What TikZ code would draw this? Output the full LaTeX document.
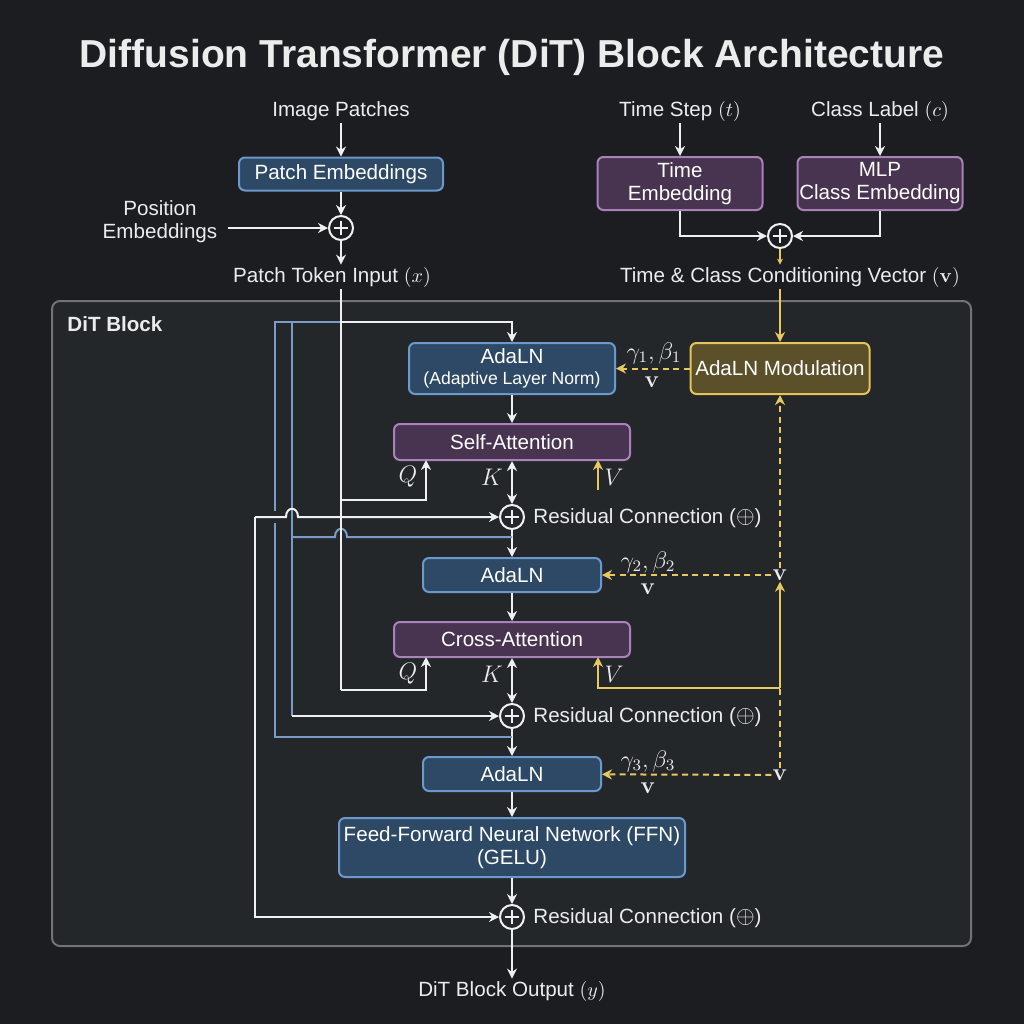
\documentclass[tikz,border=0pt]{standalone}
\usepackage[no-math]{fontspec}
\setmainfont{Liberation Sans}
\usetikzlibrary{arrows.meta}
\definecolor{bg}{RGB}{27,29,32}
\definecolor{framef}{RGB}{36,39,42}
\definecolor{frameb}{RGB}{112,115,119}
\definecolor{txt}{RGB}{236,236,236}
\definecolor{wcol}{RGB}{240,240,240}
\definecolor{bcol}{RGB}{122,156,198}
\definecolor{ycol}{RGB}{232,200,96}
\definecolor{bfill}{RGB}{45,73,102}
\definecolor{bdraw}{RGB}{108,152,204}
\definecolor{pfill}{RGB}{72,52,80}
\definecolor{pdraw}{RGB}{168,130,184}
\definecolor{yfill}{RGB}{92,80,42}
\definecolor{ydraw}{RGB}{228,196,92}
\newcommand{\myoplus}{{\fontsize{13}{13}\selectfont$\oplus$}}
\begin{document}
\begin{tikzpicture}[x=0.5pt,y=-0.5pt,
  tx/.style={text=txt, font=\fontsize{10.3}{11.5}\selectfont, inner sep=1pt, align=center},
  boxbase/.style={rounded corners=3pt, line width=1pt, text=white, align=center, inner sep=0pt, font=\fontsize{10.3}{11.5}\selectfont},
  bbox/.style={boxbase, draw=bdraw, fill=bfill},
  pbox/.style={boxbase, draw=pdraw, fill=pfill},
  ybox/.style={boxbase, draw=ydraw, fill=yfill},
  wl/.style={draw=wcol, line width=1pt},
  bl/.style={draw=bcol, line width=1pt},
  yl/.style={draw=ycol, line width=1pt},
  yd/.style={draw=ycol, line width=1pt, dash pattern=on 3pt off 2.2pt},
  arr/.style={-{Stealth[length=5pt,width=5pt]}},
  dbl/.style={{Stealth[length=5pt,width=5pt]}-{Stealth[length=5pt,width=5pt]}},
  plus/.style={circle, draw=wcol, line width=1pt, minimum size=12pt, inner sep=0pt,
    path picture={\draw[wcol, line width=0.9pt] ([xshift=-3.6pt]path picture bounding box.center) -- ([xshift=3.6pt]path picture bounding box.center);
                  \draw[wcol, line width=0.9pt] ([yshift=-3.6pt]path picture bounding box.center) -- ([yshift=3.6pt]path picture bounding box.center);}},
  lab/.style={text=txt, font=\fontsize{10.3}{11.5}\selectfont, inner sep=0.5pt},
  mlab/.style={text=txt, font=\fontsize{11.5}{12}\selectfont, inner sep=0.5pt}
]
\fill[bg] (0,0) rectangle (1024,1024);
\useasboundingbox (0,0) rectangle (1024,1024);

% title
\node[text=txt, font=\fontsize{19.5}{23}\selectfont\bfseries] (title) at (512,57) {Diffusion Transformer (DiT) Block Architecture};

% frame
\draw[draw=frameb, fill=framef, line width=1pt, rounded corners=4pt] (52,301) rectangle (971,946);
\node[text=txt, font=\fontsize{10.3}{12}\selectfont\bfseries, anchor=west, inner sep=0pt] (dl) at (67,324) {DiT Block};

% top left input
\node[tx] (ip) at (341,111) {Image Patches};
\node[bbox, minimum width=102pt, minimum height=16.5pt] (pe) at (341,174) {Patch Embeddings};
\node[plus] (p0) at (341,228) {};
\node[tx] (pos) at (160,222) {Position\\Embeddings};
\node[tx] (pti) at (332,277) {Patch Token Input $(x)$};
\coordinate (posend) at (228,228);
\draw[wl,arr] (ip) -- (pe);
\draw[wl,arr] (pe) -- (p0);
\draw[wl,arr] (posend) -- (p0);
\draw[wl,arr] (p0) -- (p0 |- pti.north);

% conditioning
\node[tx] (ts) at (680,111) {Time Step $(t)$};
\node[tx] (cl) at (880,111) {Class Label $(c)$};
\node[pbox, minimum width=82.5pt, minimum height=26.5pt] (te) at (680,183.5) {Time\\Embedding};
\node[pbox, minimum width=82.5pt, minimum height=26.5pt] (ce) at (880,183.5) {MLP\\Class Embedding};
\node[plus] (pc) at (780,236) {};
\node[tx] (cv) at (790,277) {Time \& Class Conditioning Vector $(\mathbf{v})$};
\draw[wl,arr] (ts) -- (te);
\draw[wl,arr] (cl) -- (ce);
\draw[wl,arr] (te) |- (pc);
\draw[wl,arr] (ce) |- (pc);
\draw[yl,line width=0.7pt,-{Stealth[length=3pt,width=3pt]}] (pc) -- (pc |- cv.north);

% main column
\node[bbox, minimum width=103pt, minimum height=25.5pt] (ada1) at (512,368.5) {AdaLN\\[-1pt]{\fontsize{8.8}{10}\selectfont (Adaptive Layer Norm)}};
\node[pbox, minimum width=118pt, minimum height=18pt] (sa) at (512,442) {Self-Attention};
\node[plus] (r1) at (512,517) {};
\node[bbox, minimum width=89pt, minimum height=17pt] (ada2) at (512,575) {AdaLN};
\node[pbox, minimum width=118pt, minimum height=17.5pt] (ca) at (512,639.5) {Cross-Attention};
\node[plus] (r2) at (512,716) {};
\node[bbox, minimum width=89pt, minimum height=17pt] (ada3) at (512,774) {AdaLN};
\node[bbox, minimum width=173pt, minimum height=29.5pt] (ffn) at (512,847.5) {Feed-Forward Neural Network (FFN)\\(GELU)};
\node[plus] (r3) at (512,917) {};
\node[tx] (out) at (512,991) {DiT Block Output $(y)$};

\node[lab, anchor=west] (rl1) at (532,518) {Residual Connection (\myoplus)};
\node[lab, anchor=west] (rl2) at (532,717) {Residual Connection (\myoplus)};
\node[lab, anchor=west] (rl3) at (532,918) {Residual Connection (\myoplus)};

\draw[wl,arr] (ada1) -- (sa);
\draw[wl,dbl] (sa) -- (r1);
\draw[wl,arr] (r1) -- (ada2);
\draw[wl,arr] (ada2) -- (ca);
\draw[wl,dbl] (ca) -- (r2);
\draw[wl,arr] (r2) -- (ada3);
\draw[wl,arr] (ada3) -- (ffn);
\draw[wl,arr] (ffn) -- (r3);
\draw[wl,arr] (r3) -- (out);

% Q K V labels
\node[mlab] (q1) at (408,477) {$Q$};
\node[mlab] (k1) at (492,477) {$K$};
\node[mlab] (v1) at (614,477) {$V$};
\node[mlab] (q2) at (408,674) {$Q$};
\node[mlab] (k2) at (492,674) {$K$};
\node[mlab] (v2l) at (614,674) {$V$};

% skip / routing lines
\coordinate (split) at (341,322);
\coordinate (bA) at (275,322);
\coordinate (bB) at (292,322);
\coordinate (qs1) at (341,500);
\coordinate (qs2) at (341,690);
\coordinate (qa1) at (426,460);
\coordinate (qa2) at (426,657);
\coordinate (wl0) at (255,517);

% blue lines (behind)
\draw[bl] (split) -- (bA) -- (275,511);
\draw[bl] (275,523) -- (275,737) -- (512,737);
\draw[bl] (bB) -- (292,716);
\draw[bl] (292,537) -- (335,537) .. controls (335,526) and (347,526) .. (347,537) -- (512,537);

% white x path
\draw[wl] (p0 |- pti.south) -- (split);
\draw[wl,arr] (split) -| (ada1);
\draw[wl] (split) -- (qs2);
\draw[wl,arr] (qs1) -| (qa1);
\draw[wl,arr] (qs2) -| (qa2);
\draw[wl,arr] (292,716) -- (r2);
\draw[wl,arr] (wl0) -- (286,517) .. controls (286,506) and (298,506) .. (298,517) -- (r1);
\draw[wl,arr] (wl0) |- (r3);

% modulation
\node[ybox, minimum width=89.5pt, minimum height=25.5pt] (mod) at (780,368.5) {AdaLN Modulation};
\node[mlab] (vv2) at (780,575) {$\mathbf{v}$};
\node[mlab] (vv3) at (780,775) {$\mathbf{v}$};
\coordinate (j) at (780,688);
\coordinate (sav) at (598,490);
\coordinate (sava) at (598,460);
\coordinate (cav) at (598,657);

\draw[yl,arr] (cv.south -| mod) -- (mod);
\draw[yd,arr] (mod) -- (ada1);
\draw[yd,arr] (vv2) -- (mod);
\draw[yd,arr] (vv2) -- (ada2);
\draw[yd,arr] (vv3) -- (ada3);
\draw[yd] (vv3) -- (j);
\draw[yl,arr] (j) -- (vv2);
\draw[yl,arr] (j) -| (cav);
\draw[yl,arr] (sav) -- (sava);

\node[mlab] (g1) at (654,353) {$\gamma_1,\beta_1$};
\node[mlab] (gv1) at (652,382) {$\mathbf{v}$};
\node[mlab] (g2) at (648,562) {$\gamma_2,\beta_2$};
\node[mlab] (gv2) at (648,589) {$\mathbf{v}$};
\node[mlab] (g3) at (648,761) {$\gamma_3,\beta_3$};
\node[mlab] (gv3) at (648,788) {$\mathbf{v}$};
\end{tikzpicture}
\end{document}
